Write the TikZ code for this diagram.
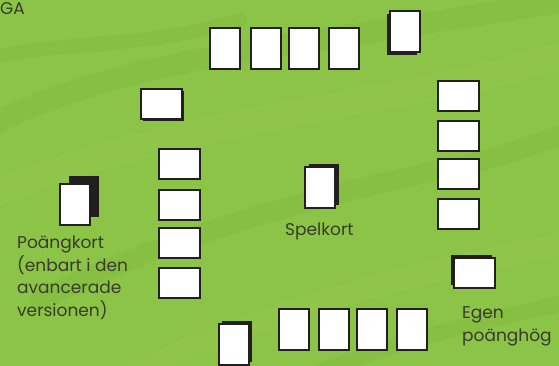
\documentclass[tikz,border=0pt]{standalone}
\usepackage{fontspec}
\setmainfont{Poppins}
\usetikzlibrary{positioning,shadows}
\definecolor{meadow}{HTML}{8CC447}
\definecolor{meadowDark}{HTML}{72AA34}
\definecolor{meadowLight}{HTML}{A0D258}
\definecolor{ink}{HTML}{231F20}
\definecolor{labelInk}{HTML}{363B2C}

\begin{document}
\begin{tikzpicture}[x=1pt, y=-1pt,
    cardTall/.style={draw=ink, fill=white, line width=1.6pt, minimum width=30pt, minimum height=41pt, inner sep=0pt, anchor=north west},
    cardWide/.style={cardTall, minimum width=41pt, minimum height=30pt},
    cardShadow/.style 2 args={drop shadow={shadow xshift=#1, shadow yshift=#2, fill=ink, opacity=1}},
    labelText/.style={text=labelInk, font=\fontsize{17}{22.5}\selectfont, align=left, inner sep=0pt}
]
    \useasboundingbox (0,0) rectangle (559,366);
    \fill[meadow] (0,0) rectangle (559,366);

    % grass streaks
    \begin{scope}[line cap=round, opacity=0.18]
        \clip (0,0) rectangle (559,366);
        \draw[meadowDark, line width=22pt] (-20,130) .. controls (80,80) and (180,60) .. (320,40) .. controls (420,25) and (500,10) .. (580,0);
        \draw[meadowDark, line width=14pt] (-20,60) .. controls (60,40) and (140,50) .. (240,20);
        \draw[meadowLight, line width=26pt] (-20,200) .. controls (120,140) and (260,120) .. (420,90) .. controls (500,75) and (540,60) .. (580,50);
        \draw[meadowDark, line width=20pt] (40,300) .. controls (160,240) and (300,200) .. (440,170) .. controls (500,160) and (540,140) .. (580,130);
        \draw[meadowLight, line width=22pt] (120,380) .. controls (240,320) and (380,280) .. (580,240);
        \draw[meadowDark, line width=16pt] (300,380) .. controls (400,340) and (480,320) .. (580,300);
    \end{scope}

    \node[labelText, anchor=base west] (titleCut) at (0,15) {GA};

    % top row
    \node[cardTall] (top1) at (209,27) {};
    \node[cardTall] (top2) at (250,27) {};
    \node[cardTall] (top3) at (288,27) {};
    \node[cardTall] (top4) at (328,27) {};
    \node[cardTall, cardShadow={-3pt}{-3pt}] (top5) at (389,10) {};

    % left side
    \node[cardWide, cardShadow={2pt}{-2pt}] (leftWide) at (140,88) {};
    \node[cardWide] (left1) at (158,148) {};
    \node[cardWide] (left2) at (158,189) {};
    \node[cardWide] (left3) at (158,227) {};
    \node[cardWide] (left4) at (158,267) {};

    % scoring cards
    \node[cardTall, cardShadow={9pt}{8pt}] (scoreCard) at (59,183) {};
    \node[labelText, anchor=base west] (scoreText) at (17,316) {Poängkort\\(enbart i den\\avancerade\\versionen)};

    % play cards
    \node[cardTall, cardShadow={4pt}{3pt}] (playCard) at (304,166) {};
    \node[labelText, anchor=base west] (playText) at (285,235) {Spelkort};

    % right side
    \node[cardWide] (right1) at (437,80) {};
    \node[cardWide] (right2) at (437,120) {};
    \node[cardWide] (right3) at (437,158) {};
    \node[cardWide] (right4) at (437,198) {};

    % own pile
    \node[cardWide, cardShadow={-3pt}{3pt}] (ownPile) at (453,257) {};
    \node[labelText, anchor=base west] (ownText) at (462,341) {Egen\\poänghög};

    % bottom row
    \node[cardTall, cardShadow={3pt}{3pt}] (bottom0) at (218,323) {};
    \node[cardTall] (bottom1) at (278,308) {};
    \node[cardTall] (bottom2) at (318,308) {};
    \node[cardTall] (bottom3) at (356,308) {};
    \node[cardTall] (bottom4) at (396,308) {};
\end{tikzpicture}
\end{document}
